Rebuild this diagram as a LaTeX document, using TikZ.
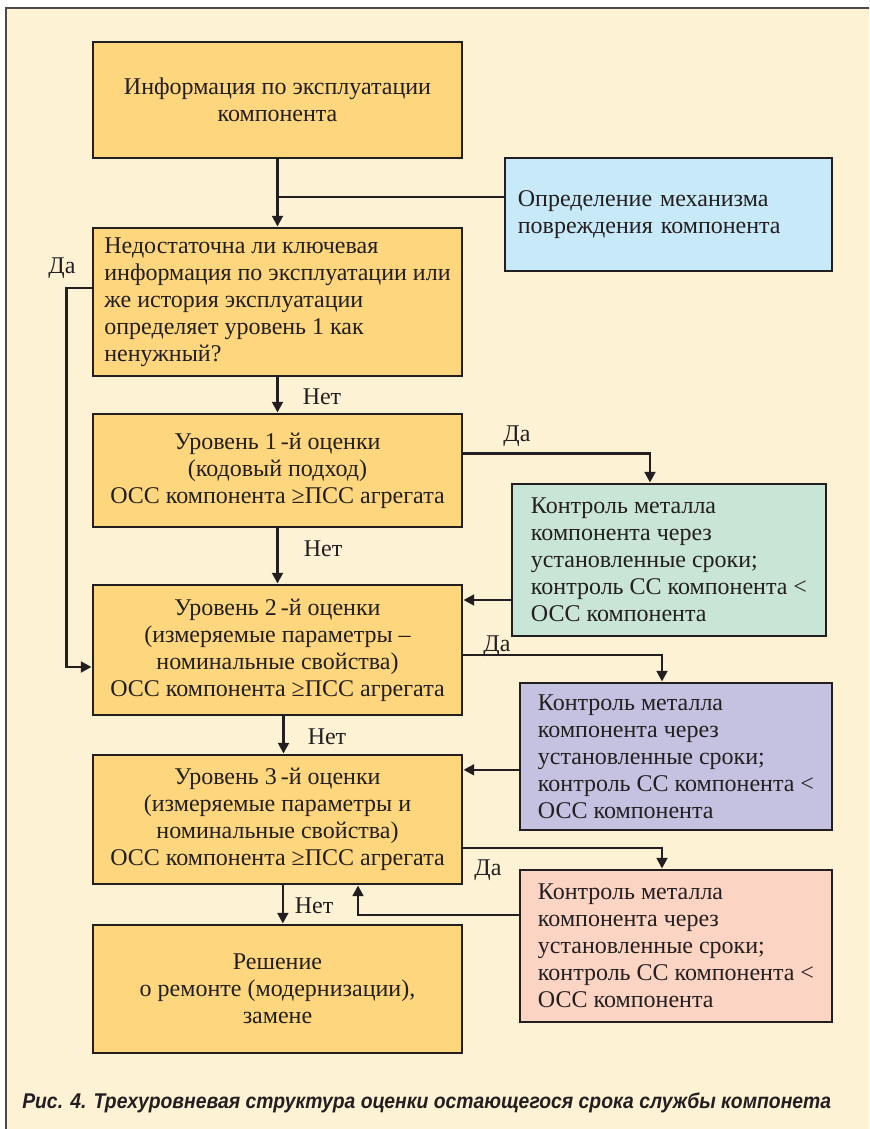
\documentclass[tikz,border=0pt]{standalone}
\usepackage{fontspec}
\setmainfont{Liberation Serif}
\newfontfamily\capfont{Liberation Sans}
\usetikzlibrary{arrows.meta,calc}

\definecolor{paper}{HTML}{FEF2D5}
\definecolor{frameline}{HTML}{4A4A4A}
\definecolor{boxorange}{HTML}{FDD67E}
\definecolor{boxblue}{HTML}{C7E9F8}
\definecolor{boxgreen}{HTML}{C9E5D5}
\definecolor{boxviolet}{HTML}{C5C2E1}
\definecolor{boxpink}{HTML}{FCD4C3}
\definecolor{ink}{HTML}{231F20}

\tikzset{
  block/.style={draw=ink,line width=2.2pt,fill=boxorange,align=center,
    font=\fontsize{18}{20.25}\selectfont,text=ink,inner sep=0pt},
  sidebox/.style={block,align=left},
  flow/.style={draw=ink,line width=2pt,-{Triangle[length=8pt,width=8pt]}},
  link/.style={draw=ink,line width=2pt},
  ans/.style={font=\fontsize{18}{20.25}\selectfont,text=ink,inner sep=0pt}
}

\begin{document}
\begin{tikzpicture}[x=0.75pt,y=-0.75pt]
\useasboundingbox (0,0) rectangle (869,1129);
% frame
\fill[paper] (6,8) rectangle (869,1129);
\draw[frameline,line width=1.5pt] (6,1129) -- (6,8) -- (869,8);

% main column
\node[block,minimum width=276.75pt,minimum height=87pt] (info) at (277.5,100)
  {Информация по эксплуатации\\компонента};
\node[block,align=left,minimum width=276.75pt,minimum height=111pt] (check) at (277.5,302)
  {Недостаточна ли ключевая\\информация по эксплуатации или\\же история эксплуатации\\определяет уровень 1 как\\ненужный?};
\node[block,minimum width=276.75pt,minimum height=84.75pt] (lvl1) at (277.5,470.5)
  {Уровень 1\,-й оценки\\(кодовый подход)\\ОСС компонента ≥ПСС агрегата};
\node[block,minimum width=276.75pt,minimum height=97.5pt] (lvl2) at (277.5,650)
  {Уровень 2\,-й оценки\\(измеряемые параметры –\\номинальные свойства)\\ОСС компонента ≥ПСС агрегата};
\node[block,minimum width=276.75pt,minimum height=96.75pt] (lvl3) at (277.5,819.5)
  {Уровень 3\,-й оценки\\(измеряемые параметры и\\номинальные свойства)\\ОСС компонента ≥ПСС агрегата};
\node[block,minimum width=276.75pt,minimum height=96pt] (decision) at (277.5,989)
  {Решение\\о ремонте (модернизации),\\замене};

% side boxes
\node[sidebox,fill=boxblue,text width=226pt,minimum width=245.25pt,minimum height=84.75pt] (mech) at (668.5,214.5)
  {Определение механизма\\повреждения компонента};
\node[sidebox,fill=boxgreen,minimum width=235.5pt,minimum height=114pt] (ctrlA) at (669,560)
  {Контроль металла\\компонента через\\установленные сроки;\\контроль СС компонента~<\\ОСС компонента};
\node[sidebox,fill=boxviolet,minimum width=234pt,minimum height=110.25pt] (ctrlB) at (676,756.5)
  {Контроль металла\\компонента через\\установленные сроки;\\контроль СС компонента~<\\ОСС компонента};
\node[sidebox,fill=boxpink,minimum width=234pt,minimum height=114pt] (ctrlC) at (676,946)
  {Контроль металла\\компонента через\\установленные сроки;\\контроль СС компонента~<\\ОСС компонента};

% connectors
\coordinate (split) at ($(info.south)!0.56!(check.north)$);
\draw[flow] (info.south) -- (check.north);
\draw[link] (split) -- (split -| mech.west);
\draw[flow] (check.south) -- (lvl1.north);
\draw[flow] (lvl1.south) -- (lvl2.north);
\draw[flow] ([xshift=4.5pt]lvl2.south) -- ([xshift=4.5pt]lvl3.north);
\draw[flow] ([xshift=4pt]lvl3.south) -- ([xshift=4pt]decision.north);
\draw[flow] ([yshift=10.5pt]check.west) -- ++(-18.75pt,0) |- ([yshift=-12.75pt]lvl2.west);
\draw[flow] ([yshift=13pt]lvl1.east) -| ([xshift=-14.25pt]ctrlA.north);
\draw[flow] ([yshift=-30pt]ctrlA.west) -- ([yshift=-30pt]ctrlA.west -| lvl2.east);
\draw[flow] ([yshift=-3.75pt]lvl2.east) -| ([xshift=-10.5pt]ctrlB.north);
\draw[flow] ([yshift=-10pt]ctrlB.west) -- ([yshift=-10pt]ctrlB.west -| lvl3.east);
\draw[flow] ([yshift=-21.4pt]lvl3.east) -| ([xshift=-10.5pt]ctrlC.north);
\draw[flow] ([yshift=23.25pt]ctrlC.west) -| ([xshift=60.4pt]lvl3.south);

% answers
\node[ans] (yes0) at (62,268) {Да};
\node[ans] (no0) at (322,397) {Нет};
\node[ans] (yes1) at (517,436) {Да};
\node[ans] (no1) at (323,549) {Нет};
\node[ans] (yes2) at (497,646) {Да};
\node[ans] (no2) at (327,737) {Нет};
\node[ans] (yes3) at (488,870) {Да};
\node[ans] (no3) at (314,906) {Нет};

% caption
\node[anchor=west,inner sep=0pt,text=ink] (caption) at (22,1103)
  {\scalebox{0.907}[1]{\capfont\bfseries\itshape\fontsize{16}{18}\selectfont Рис. 4. Трехуровневая структура оценки остающегося срока службы компонета}};
\end{tikzpicture}
\end{document}
